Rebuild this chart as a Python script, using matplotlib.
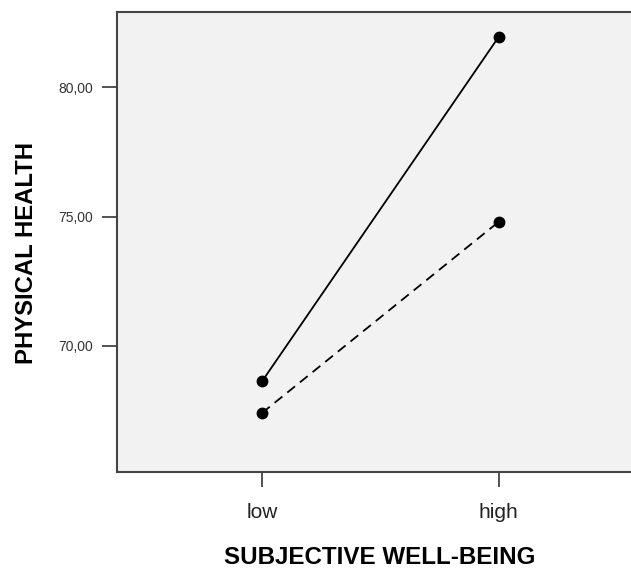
import matplotlib
matplotlib.use("Agg")
import matplotlib.pyplot as plt

categories = ["low", "high"]
solid_values = [68.63, 81.93]
dashed_values = [67.41, 74.79]
y_ticks = [70, 75, 80]
y_tick_labels = ["70,00", "75,00", "80,00"]

plt.rcParams['font.family'] = ['Liberation Sans', 'DejaVu Sans']

fig = plt.figure(figsize=(6.31, 5.69), dpi=100)
ax = fig.add_axes([117/631, 1-472/569, 1-117/631, (472-12)/569])
ax.set_facecolor('#f2f2f2')

x = list(range(len(categories)))
ax.plot(x, solid_values, color='black', lw=1.3, marker='o', ms=7.5, linestyle='-')
ax.plot(x, dashed_values, color='black', lw=1.3, marker='o', ms=7.5, linestyle=(0, (5.5, 3.5)))

ax.set_xlim(-0.613, 1.56)
ax.set_ylim(65.13, 82.9)
ax.set_xticks(x)
ax.set_xticklabels(categories, fontsize=15, color='#222222')
ax.set_yticks(y_ticks)
ax.set_yticklabels(y_tick_labels, fontsize=10, color='#333333')
ax.tick_params(axis='both', direction='out', length=11, width=1.3, color='#444444')
ax.tick_params(axis='x', pad=11)
ax.tick_params(axis='y', pad=6.5)

for s in ['left', 'bottom', 'top']:
    ax.spines[s].set_color('#444444')
    ax.spines[s].set_linewidth(1.5)
ax.spines['right'].set_visible(False)

fig.text(380/631, 1-557/569, "SUBJECTIVE WELL-BEING", fontsize=17.4, fontweight='bold',
         ha='center', va='center')
fig.text(27/631, 1-253/569, "PHYSICAL HEALTH", fontsize=17.2, fontweight='bold',
         ha='center', va='center', rotation=90)

fig.savefig("out.png", dpi=100)
